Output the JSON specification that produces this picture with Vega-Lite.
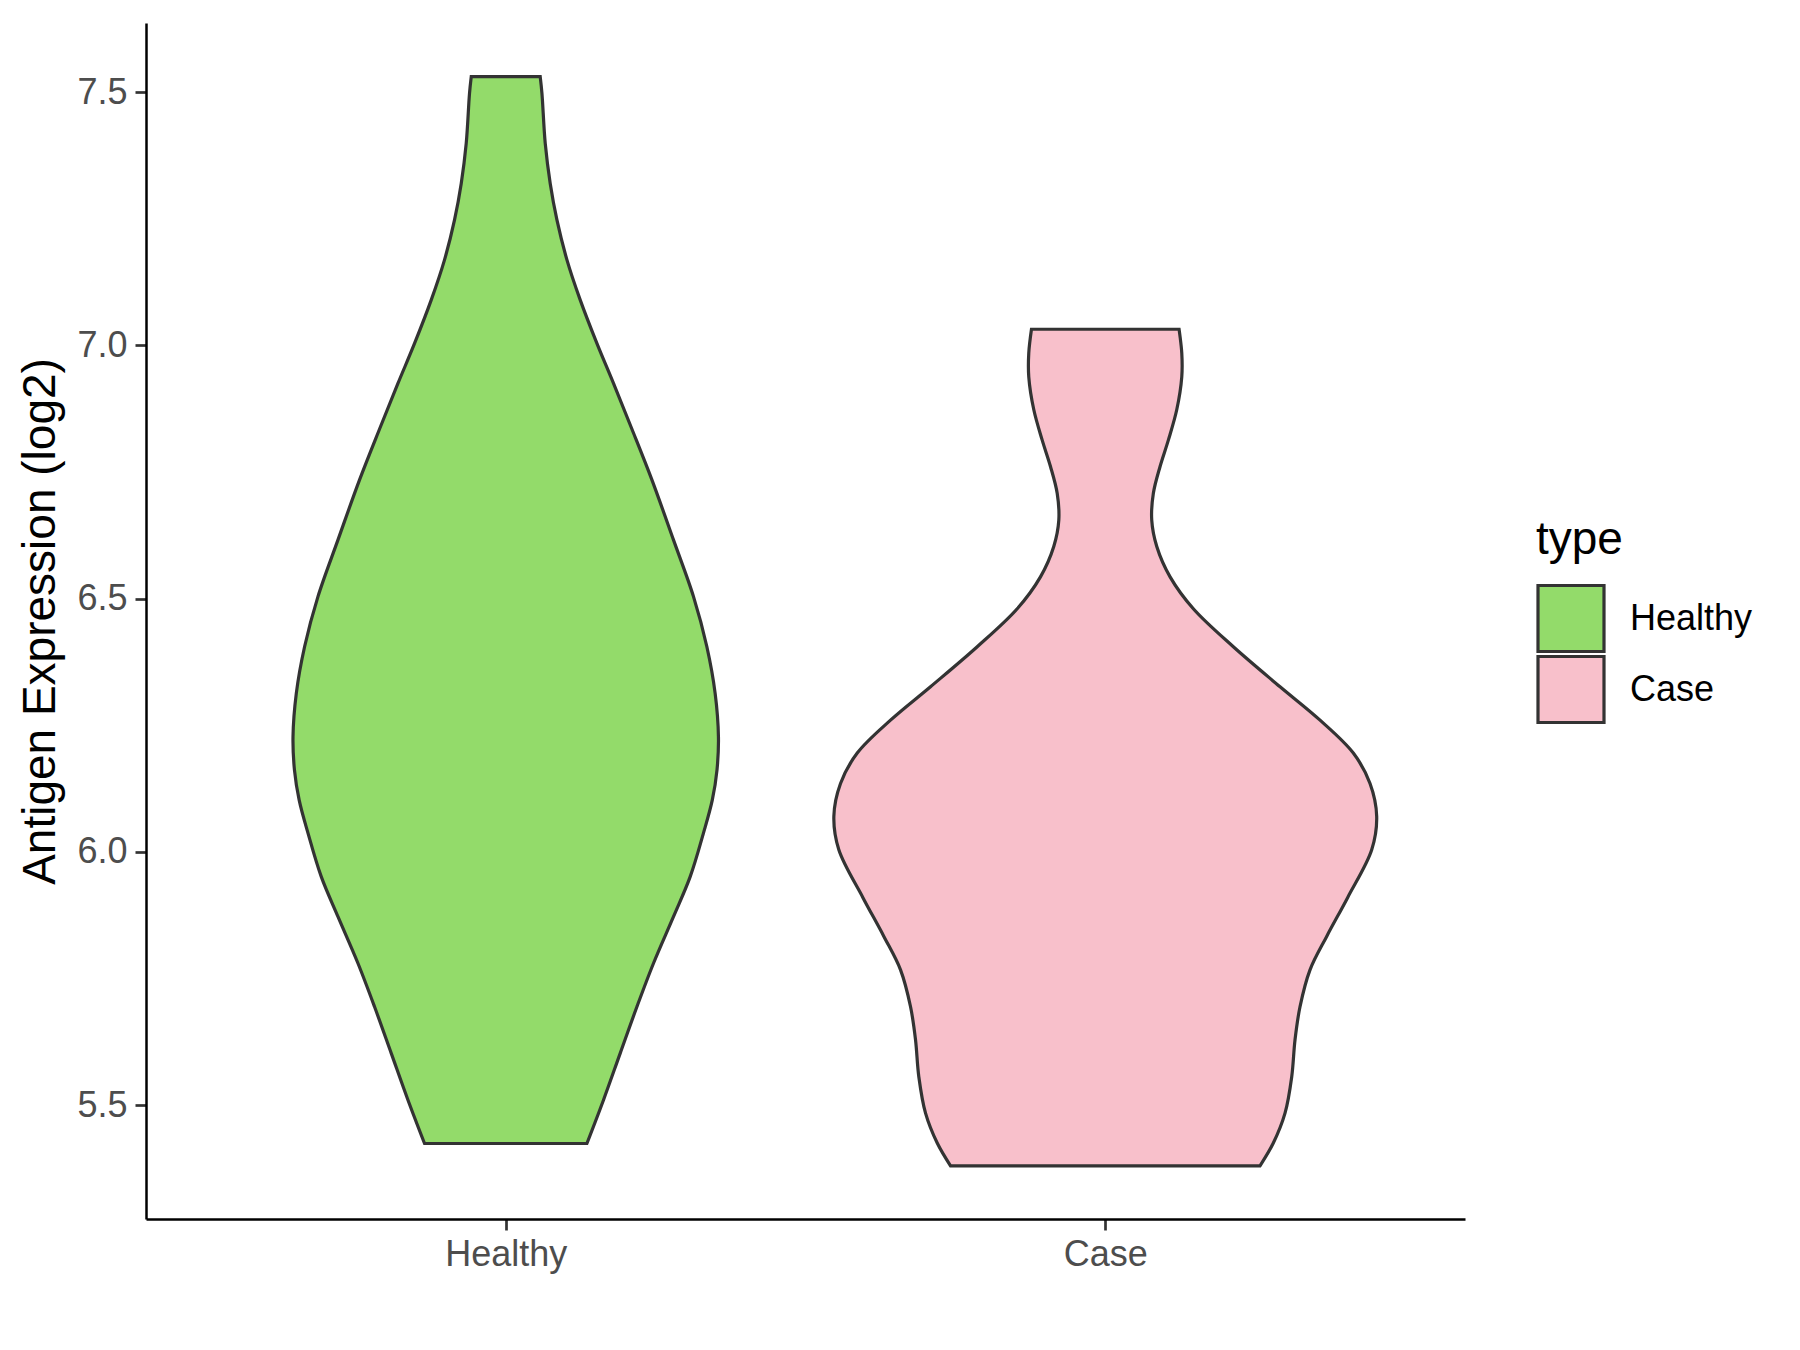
{
  "$schema": "https://vega.github.io/schema/vega-lite/v6.json",
  "width": 1319,
  "height": 1196,
  "autosize": {"type": "none"},
  "padding": {"left": 146, "top": 23, "right": 335, "bottom": 131},
  "background": "white",
  "config": {"view": {"stroke": null}, "font": "Liberation Sans"},
  "data": {
    "values": [
      {"type": "Healthy", "expression": 7.531, "lo": 0.9425, "hi": 1.0575},
      {"type": "Healthy", "expression": 7.498, "lo": 0.9396, "hi": 1.0604},
      {"type": "Healthy", "expression": 7.399, "lo": 0.9341, "hi": 1.0659},
      {"type": "Healthy", "expression": 7.320, "lo": 0.9258, "hi": 1.0742},
      {"type": "Healthy", "expression": 7.248, "lo": 0.9146, "hi": 1.0854},
      {"type": "Healthy", "expression": 7.169, "lo": 0.8979, "hi": 1.1021},
      {"type": "Healthy", "expression": 7.090, "lo": 0.8758, "hi": 1.1242},
      {"type": "Healthy", "expression": 7.004, "lo": 0.8479, "hi": 1.1521},
      {"type": "Healthy", "expression": 6.925, "lo": 0.8202, "hi": 1.1798},
      {"type": "Healthy", "expression": 6.836, "lo": 0.7899, "hi": 1.2101},
      {"type": "Healthy", "expression": 6.734, "lo": 0.7560, "hi": 1.2440},
      {"type": "Healthy", "expression": 6.616, "lo": 0.7202, "hi": 1.2798},
      {"type": "Healthy", "expression": 6.504, "lo": 0.6868, "hi": 1.3132},
      {"type": "Healthy", "expression": 6.405, "lo": 0.6645, "hi": 1.3355},
      {"type": "Healthy", "expression": 6.313, "lo": 0.6507, "hi": 1.3493},
      {"type": "Healthy", "expression": 6.227, "lo": 0.6452, "hi": 1.3548},
      {"type": "Healthy", "expression": 6.162, "lo": 0.6476, "hi": 1.3524},
      {"type": "Healthy", "expression": 6.102, "lo": 0.6555, "hi": 1.3445},
      {"type": "Healthy", "expression": 6.037, "lo": 0.6702, "hi": 1.3298},
      {"type": "Healthy", "expression": 5.951, "lo": 0.6923, "hi": 1.3077},
      {"type": "Healthy", "expression": 5.872, "lo": 0.7202, "hi": 1.2798},
      {"type": "Healthy", "expression": 5.780, "lo": 0.7535, "hi": 1.2465},
      {"type": "Healthy", "expression": 5.694, "lo": 0.7812, "hi": 1.2188},
      {"type": "Healthy", "expression": 5.602, "lo": 0.8091, "hi": 1.1909},
      {"type": "Healthy", "expression": 5.510, "lo": 0.8369, "hi": 1.1631},
      {"type": "Healthy", "expression": 5.424, "lo": 0.8646, "hi": 1.1354},
      {"type": "Case", "expression": 7.032, "lo": 1.8769, "hi": 2.1231},
      {"type": "Case", "expression": 6.985, "lo": 1.8724, "hi": 2.1276},
      {"type": "Case", "expression": 6.938, "lo": 1.8724, "hi": 2.1276},
      {"type": "Case", "expression": 6.873, "lo": 1.8808, "hi": 2.1192},
      {"type": "Case", "expression": 6.813, "lo": 1.8948, "hi": 2.1052},
      {"type": "Case", "expression": 6.761, "lo": 1.9086, "hi": 2.0914},
      {"type": "Case", "expression": 6.708, "lo": 1.9198, "hi": 2.0802},
      {"type": "Case", "expression": 6.655, "lo": 1.9225, "hi": 2.0775},
      {"type": "Case", "expression": 6.603, "lo": 1.9141, "hi": 2.0859},
      {"type": "Case", "expression": 6.543, "lo": 1.8919, "hi": 2.1081},
      {"type": "Case", "expression": 6.480, "lo": 1.8531, "hi": 2.1469},
      {"type": "Case", "expression": 6.405, "lo": 1.7864, "hi": 2.2136},
      {"type": "Case", "expression": 6.326, "lo": 1.7085, "hi": 2.2915},
      {"type": "Case", "expression": 6.260, "lo": 1.6418, "hi": 2.3582},
      {"type": "Case", "expression": 6.195, "lo": 1.5863, "hi": 2.4137},
      {"type": "Case", "expression": 6.135, "lo": 1.5584, "hi": 2.4416},
      {"type": "Case", "expression": 6.070, "lo": 1.5473, "hi": 2.4527},
      {"type": "Case", "expression": 6.004, "lo": 1.5556, "hi": 2.4444},
      {"type": "Case", "expression": 5.910, "lo": 1.5956, "hi": 2.4044},
      {"type": "Case", "expression": 5.833, "lo": 1.6307, "hi": 2.3693},
      {"type": "Case", "expression": 5.767, "lo": 1.6585, "hi": 2.3415},
      {"type": "Case", "expression": 5.694, "lo": 1.6752, "hi": 2.3248},
      {"type": "Case", "expression": 5.629, "lo": 1.6835, "hi": 2.3165},
      {"type": "Case", "expression": 5.556, "lo": 1.6890, "hi": 2.3110},
      {"type": "Case", "expression": 5.484, "lo": 1.7002, "hi": 2.2998},
      {"type": "Case", "expression": 5.425, "lo": 1.7197, "hi": 2.2803},
      {"type": "Case", "expression": 5.380, "lo": 1.7419, "hi": 2.2581}
    ]
  },
  "mark": {
    "type": "area",
    "orient": "horizontal",
    "interpolate": "catmull-rom",
    "stroke": "#333333",
    "strokeWidth": 3.2,
    "fillOpacity": 1
  },
  "encoding": {
    "y": {
      "field": "expression",
      "type": "quantitative",
      "title": "Antigen Expression (log2)",
      "scale": {"domain": [5.2749, 7.6368], "nice": false, "zero": false},
      "axis": {
        "values": [5.5, 6, 6.5, 7, 7.5],
        "format": ".1f",
        "grid": false,
        "labelFontSize": 36,
        "labelColor": "#4D4D4D",
        "labelPadding": 8,
        "tickColor": "#333333",
        "tickWidth": 2.7,
        "tickSize": 11,
        "domainColor": "black",
        "domainWidth": 2.5,
        "titleFontSize": 46,
        "titleFontWeight": "normal",
        "titleColor": "black",
        "titlePadding": 12
      }
    },
    "x": {
      "field": "lo",
      "type": "quantitative",
      "scale": {"domain": [0.4, 2.6], "nice": false, "zero": false},
      "axis": {
        "title": null,
        "values": [1, 2],
        "labelExpr": "datum.value == 1 ? 'Healthy' : 'Case'",
        "grid": false,
        "labelFontSize": 36,
        "labelColor": "#4D4D4D",
        "labelPadding": 7,
        "labelFlush": false,
        "tickColor": "#333333",
        "tickWidth": 2.7,
        "tickSize": 11,
        "domainColor": "black",
        "domainWidth": 2.5
      }
    },
    "x2": {"field": "hi"},
    "color": {
      "field": "type",
      "type": "nominal",
      "scale": {"domain": ["Healthy", "Case"], "range": ["#93DB6A", "#F8C0CB"]},
      "legend": {
        "orient": "none",
        "legendX": 1390,
        "legendY": 495,
        "title": "type",
        "titleFontSize": 46,
        "titleFontWeight": "normal",
        "titleColor": "black",
        "titlePadding": 20,
        "labelFontSize": 36,
        "labelColor": "black",
        "labelOffset": 24,
        "symbolType": "square",
        "symbolSize": 4356,
        "symbolStrokeColor": "#333333",
        "symbolStrokeWidth": 3.2,
        "symbolOpacity": 1,
        "clipHeight": 69,
        "rowPadding": 2
      }
    }
  }
}
